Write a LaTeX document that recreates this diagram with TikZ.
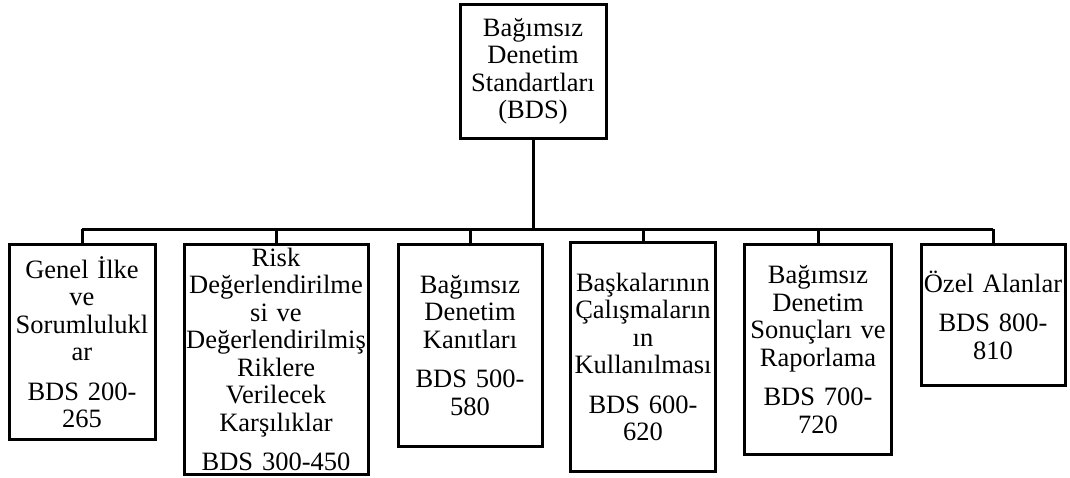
\documentclass[tikz,border=0pt]{standalone}
\usepackage{fontspec}
\setmainfont{Liberation Serif}

\tikzset{
  bdsbox/.style={draw,line width=3pt,anchor=north,align=center,inner sep=1pt,
    font=\fontsize{26.5}{27.5}\selectfont},
  link/.style={line width=3pt}
}

\begin{document}
\begin{tikzpicture}[x=1pt,y=-1pt]

\useasboundingbox (0,0) rectangle (1070,477);

\node[bdsbox,text width=144pt,minimum height=134pt] (bds) at (533,3)
  {Bağımsız\\Denetim\\Standartları\\(BDS)};

\node[bdsbox,text width=144pt,minimum height=195pt] (genel) at (82,243)
  {Genel İlke\\ve\\Sorumlulukl\\ar\\[12pt]BDS 200-\\265};
\node[bdsbox,text width=182pt,minimum height=230pt] (risk) at (276,243)
  {Risk\\Değerlendirilme\\si ve\\Değerlendirilmiş\\Riklere\\Verilecek\\Karşılıklar\\[12pt]BDS 300-450};
\node[bdsbox,text width=142pt,minimum height=202pt] (kanit) at (470,243)
  {Bağımsız\\Denetim\\Kanıtları\\[12pt]BDS 500-\\580};
\node[bdsbox,text width=143pt,minimum height=229pt] (baskalari) at (643,241)
  {Başkalarının\\Çalışmaların\\ın\\Kullanılması\\[12pt]BDS 600-\\620};
\node[bdsbox,text width=145pt,minimum height=210pt] (rapor) at (818,243)
  {Bağımsız\\Denetim\\Sonuçları ve\\Raporlama\\[12pt]BDS 700-\\720};
\node[bdsbox,text width=142pt,minimum height=141pt] (ozel) at (993,243)
  {Özel Alanlar\\[12pt]BDS 800-\\810};

% bus
\coordinate (bus) at (533,229);
\draw[link] (bds.south) -- (bus);
\draw[link] (genel.north |- bus) -- (ozel.north |- bus);
\foreach \n in {genel,risk,kanit,baskalari,rapor,ozel}
  \draw[link] (\n.north |- bus) -- (\n.north);

\end{tikzpicture}
\end{document}
